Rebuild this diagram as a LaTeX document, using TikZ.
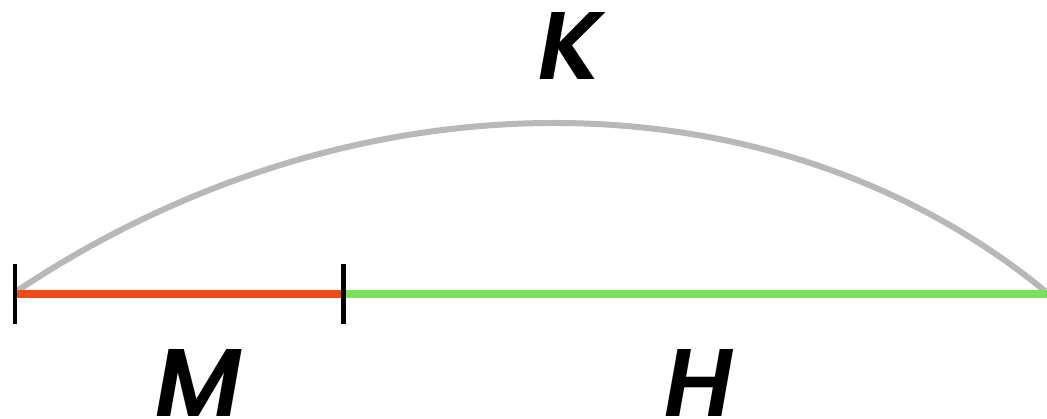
\documentclass[tikz,border=0pt]{standalone}
\usepackage{fontspec}
\setmainfont{Poppins}[BoldFont={* SemiBold}, BoldItalicFont={* SemiBold Italic}]
\usepackage{xcolor}
\usepackage{tikz}

\definecolor{segred}{RGB}{238,78,22}
\definecolor{seggreen}{RGB}{120,224,90}
\definecolor{arcgray}{RGB}{184,184,184}

\begin{document}
\begin{tikzpicture}[
  x=1pt, y=1pt,
  seg/.style={line width=8pt},
  tickmark/.style={line width=4.5pt, black},
  arcline/.style={line width=6pt, arcgray},
  lbl/.style={anchor=base, inner sep=0pt, font=\fontsize{96}{96}\selectfont\bfseries\itshape}
]
\useasboundingbox (0,0) rectangle (1047,419);
\coordinate (left) at (15,125);
\coordinate (split) at (343.5,125);
\coordinate (right) at (1047,125);
\coordinate (arcstart) at (17,128);
\coordinate (arcend) at (1045,128);

% the whole, split in two parts
\draw[arcline] (arcstart) .. controls (352,352) and (772,352) .. (arcend);
\draw[seg, segred] (left) -- (split);
\draw[seg, seggreen] (split) -- (right);
\draw[tickmark] ([yshift=30pt]left) -- ([yshift=-30pt]left);
\draw[tickmark] ([yshift=30pt]split) -- ([yshift=-30pt]split);

\node[lbl] (k) at (570,339) {K};
\node[lbl] (m) at (199,2) {M};
\node[lbl] (h) at (699,2) {H};
\end{tikzpicture}
\end{document}
